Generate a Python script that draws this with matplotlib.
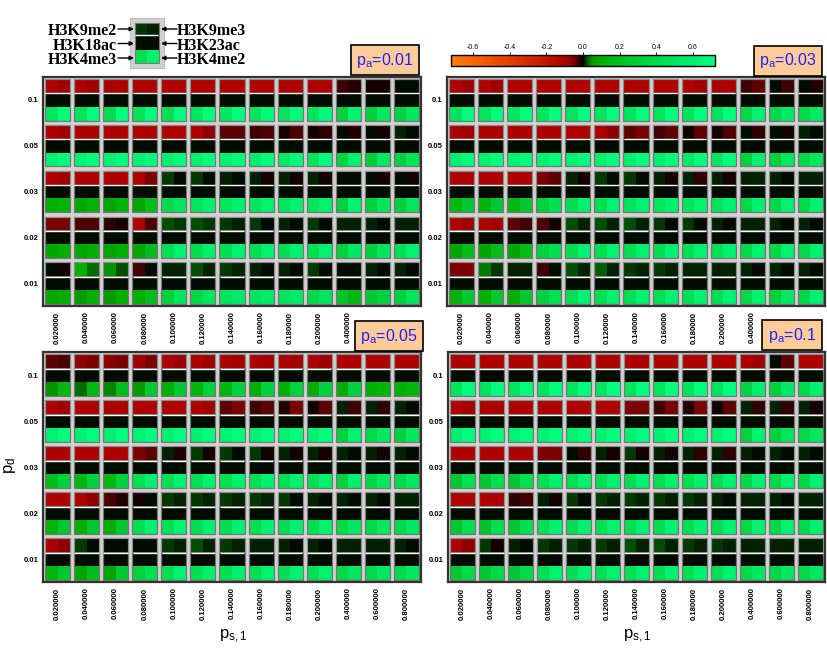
"""Histone-mark correlation grid: 4 panels (p_a), 5 x 13 cells (p_d x p_s,1),
each cell a 3 x 2 block of marks coloured on an orange-black-green scale."""
import numpy as np
import matplotlib
matplotlib.use("Agg")
import matplotlib.pyplot as plt
from matplotlib.colors import LinearSegmentedColormap, Normalize
from matplotlib.cm import ScalarMappable
from matplotlib.patches import Rectangle

plt.rcParams.update({
    "font.family": "Liberation Sans",
    "mathtext.fontset": "custom",
    "mathtext.rm": "Liberation Sans",
    "mathtext.it": "Liberation Sans:italic",
})

W, H = 828, 649

P_A = [0.01, 0.03, 0.05, 0.1]
P_D = [0.1, 0.05, 0.03, 0.02, 0.01]
P_S1 = [0.02, 0.04, 0.06, 0.08, 0.10, 0.12, 0.14, 0.16, 0.18, 0.20, 0.40, 0.60, 0.80]

# ---- p_a = 0.01 ----
K9ME2_001 = [
    [-0.10, -0.10, -0.10, -0.10, -0.10, -0.10, -0.10, -0.10, -0.10, -0.10, -0.023, -0.010, 0.002],
    [-0.10, -0.10, -0.10, -0.10, -0.10, -0.10, -0.039, -0.023, -0.010, -0.010, 0.0, 0.0, 0.006],
    [-0.10, -0.10, -0.10, -0.10, 0.012, 0.012, 0.008, 0.008, 0.010, 0.006, 0.0, 0.004, 0.004],
    [-0.05, -0.033, -0.02, -0.10, 0.02, 0.02, 0.012, 0.012, 0.006, 0.012, 0.006, 0.006, 0.006],
    [0.0, 0.10, 0.05, -0.023, 0.006, 0.018, 0.014, 0.010, 0.008, 0.012, 0.0, 0.006, 0.006],
]
K9ME3_001 = [
    [-0.083, -0.083, -0.10, -0.10, -0.10, -0.10, -0.10, -0.10, -0.10, -0.10, -0.013, -0.010, 0.0],
    [-0.083, -0.10, -0.10, -0.10, -0.10, -0.067, -0.039, -0.033, -0.033, -0.02, -0.013, -0.010, 0.0],
    [-0.083, -0.10, -0.10, -0.045, 0.0, 0.004, 0.0, -0.007, -0.007, -0.007, 0.0, -0.007, -0.010],
    [-0.05, -0.033, -0.010, -0.033, 0.012, 0.012, 0.006, 0.0, 0.0, 0.0, 0.006, 0.0, 0.006],
    [-0.010, 0.03, 0.018, 0.0, 0.006, 0.008, 0.006, 0.0, 0.0, 0.0, 0.0, 0.0, 0.0],
]
K4ME3_001 = [
    [0.50, 0.48, 0.42, 0.48, 0.46, 0.52, 0.52, 0.50, 0.50, 0.50, 0.33, 0.33, 0.35],
    [0.60, 0.62, 0.62, 0.62, 0.60, 0.60, 0.60, 0.58, 0.55, 0.50, 0.35, 0.30, 0.33],
    [0.10, 0.08, 0.08, 0.08, 0.42, 0.50, 0.50, 0.50, 0.50, 0.50, 0.33, 0.33, 0.33],
    [0.08, 0.08, 0.08, 0.08, 0.45, 0.45, 0.45, 0.45, 0.45, 0.45, 0.33, 0.33, 0.45],
    [0.08, 0.06, 0.06, 0.10, 0.33, 0.40, 0.50, 0.50, 0.50, 0.40, 0.22, 0.25, 0.33],
]
K4ME2_001 = [
    [0.70, 0.70, 0.70, 0.70, 0.70, 0.70, 0.70, 0.68, 0.68, 0.68, 0.60, 0.52, 0.52],
    [0.70, 0.70, 0.70, 0.70, 0.70, 0.70, 0.70, 0.70, 0.68, 0.70, 0.60, 0.52, 0.50],
    [0.12, 0.12, 0.12, 0.18, 0.50, 0.60, 0.60, 0.60, 0.60, 0.60, 0.60, 0.50, 0.50],
    [0.10, 0.10, 0.10, 0.18, 0.60, 0.60, 0.60, 0.60, 0.60, 0.60, 0.52, 0.50, 0.60],
    [0.10, 0.10, 0.10, 0.18, 0.50, 0.50, 0.55, 0.55, 0.55, 0.50, 0.15, 0.33, 0.50],
]

# ---- p_a = 0.03 ----
K9ME2_003 = [
    [-0.10, -0.10, -0.10, -0.10, -0.10, -0.10, -0.10, -0.10, -0.10, -0.10, -0.023, 0.0, 0.0],
    [-0.10, -0.10, -0.10, -0.10, -0.10, -0.10, -0.039, -0.023, -0.010, -0.010, 0.0, 0.004, 0.006],
    [-0.10, -0.10, -0.10, -0.05, 0.006, 0.014, 0.014, 0.010, 0.010, 0.010, 0.010, 0.006, 0.010],
    [-0.10, -0.10, -0.039, -0.033, 0.018, 0.018, 0.018, 0.014, 0.014, 0.010, 0.010, 0.010, 0.006],
    [-0.05, 0.035, 0.006, -0.023, 0.018, 0.024, 0.016, 0.014, 0.010, 0.010, 0.006, 0.006, 0.010],
]
K9ME3_003 = [
    [-0.083, -0.083, -0.10, -0.10, -0.10, -0.10, -0.10, -0.10, -0.09, -0.10, -0.039, -0.023, -0.013],
    [-0.083, -0.10, -0.10, -0.10, -0.10, -0.067, -0.045, -0.039, -0.039, -0.033, -0.02, -0.010, 0.0],
    [-0.10, -0.10, -0.10, -0.039, -0.010, 0.0, 0.0, -0.010, -0.02, -0.010, 0.006, 0.0, 0.006],
    [-0.083, -0.083, -0.023, -0.010, 0.006, 0.006, 0.006, 0.0, 0.0, 0.0, 0.006, 0.0, 0.0],
    [-0.045, 0.012, 0.006, 0.0, 0.010, 0.008, 0.008, 0.006, 0.006, 0.006, 0.0, 0.0, 0.0],
]
K4ME3_003 = [
    [0.50, 0.50, 0.50, 0.50, 0.50, 0.50, 0.50, 0.50, 0.50, 0.50, 0.40, 0.40, 0.40],
    [0.60, 0.60, 0.60, 0.60, 0.60, 0.60, 0.60, 0.58, 0.55, 0.52, 0.33, 0.33, 0.40],
    [0.15, 0.12, 0.15, 0.33, 0.45, 0.45, 0.50, 0.50, 0.50, 0.50, 0.40, 0.40, 0.40],
    [0.08, 0.08, 0.08, 0.33, 0.45, 0.45, 0.45, 0.45, 0.45, 0.45, 0.40, 0.40, 0.40],
    [0.12, 0.10, 0.10, 0.33, 0.45, 0.45, 0.45, 0.45, 0.45, 0.45, 0.40, 0.33, 0.40],
]
K4ME2_003 = [
    [0.70, 0.70, 0.70, 0.70, 0.70, 0.70, 0.70, 0.70, 0.70, 0.70, 0.60, 0.55, 0.55],
    [0.70, 0.70, 0.70, 0.70, 0.70, 0.70, 0.70, 0.70, 0.70, 0.70, 0.60, 0.52, 0.52],
    [0.25, 0.25, 0.25, 0.45, 0.60, 0.60, 0.60, 0.60, 0.60, 0.60, 0.60, 0.60, 0.60],
    [0.18, 0.18, 0.18, 0.45, 0.60, 0.60, 0.60, 0.60, 0.60, 0.60, 0.60, 0.60, 0.60],
    [0.25, 0.25, 0.25, 0.45, 0.60, 0.60, 0.60, 0.60, 0.60, 0.60, 0.60, 0.52, 0.60],
]

# ---- p_a = 0.05 ----
K9ME2_005 = [
    [-0.039, -0.067, -0.067, -0.083, -0.10, -0.10, -0.10, -0.10, -0.10, -0.10, -0.10, -0.10, -0.10],
    [-0.10, -0.10, -0.10, -0.10, -0.10, -0.10, -0.039, -0.023, -0.013, -0.010, 0.006, 0.006, 0.010],
    [-0.10, -0.10, -0.10, -0.045, 0.006, 0.012, 0.012, 0.012, 0.010, 0.010, 0.010, 0.008, 0.010],
    [-0.10, -0.10, -0.033, -0.010, 0.016, 0.016, 0.016, 0.012, 0.012, 0.010, 0.010, 0.008, 0.010],
    [-0.10, 0.016, 0.0, 0.0, 0.014, 0.02, 0.014, 0.010, 0.010, 0.010, 0.008, 0.006, 0.008],
]
K9ME3_005 = [
    [-0.033, -0.05, -0.045, -0.05, -0.083, -0.083, -0.09, -0.09, -0.09, -0.083, -0.10, -0.10, -0.10],
    [-0.083, -0.10, -0.10, -0.10, -0.10, -0.083, -0.045, -0.039, -0.045, -0.039, -0.023, -0.02, 0.0],
    [-0.10, -0.10, -0.10, -0.039, -0.013, -0.010, 0.0, -0.010, -0.010, -0.010, 0.0, -0.010, 0.0],
    [-0.10, -0.067, -0.013, 0.0, 0.006, 0.006, 0.006, 0.008, 0.004, 0.0, 0.0, 0.0, 0.006],
    [-0.067, 0.0, 0.0, 0.004, 0.006, 0.006, 0.006, 0.008, 0.004, 0.004, 0.006, 0.006, 0.0],
]
K4ME3_005 = [
    [0.045, 0.03, 0.04, 0.06, 0.10, 0.13, 0.13, 0.10, 0.10, 0.10, 0.10, 0.10, 0.10],
    [0.60, 0.60, 0.60, 0.60, 0.60, 0.60, 0.60, 0.60, 0.60, 0.60, 0.33, 0.40, 0.33],
    [0.18, 0.15, 0.15, 0.45, 0.45, 0.45, 0.45, 0.45, 0.45, 0.45, 0.33, 0.40, 0.40],
    [0.13, 0.10, 0.10, 0.45, 0.45, 0.45, 0.45, 0.45, 0.45, 0.45, 0.40, 0.40, 0.40],
    [0.13, 0.08, 0.08, 0.33, 0.45, 0.45, 0.45, 0.45, 0.45, 0.45, 0.40, 0.40, 0.40],
]
K4ME2_005 = [
    [0.15, 0.15, 0.18, 0.25, 0.25, 0.33, 0.33, 0.33, 0.33, 0.33, 0.33, 0.13, 0.13],
    [0.70, 0.70, 0.70, 0.70, 0.70, 0.70, 0.70, 0.70, 0.70, 0.70, 0.60, 0.52, 0.52],
    [0.33, 0.33, 0.33, 0.60, 0.60, 0.60, 0.60, 0.60, 0.60, 0.60, 0.60, 0.52, 0.52],
    [0.25, 0.25, 0.25, 0.60, 0.60, 0.60, 0.60, 0.60, 0.60, 0.60, 0.52, 0.52, 0.52],
    [0.25, 0.18, 0.25, 0.45, 0.60, 0.60, 0.60, 0.60, 0.60, 0.60, 0.52, 0.52, 0.52],
]

# ---- p_a = 0.1 ----
K9ME2_010 = [
    [-0.10, -0.10, -0.10, -0.10, -0.10, -0.10, -0.10, -0.10, -0.10, -0.10, -0.10, 0.0, -0.10],
    [-0.10, -0.10, -0.10, -0.10, -0.10, -0.10, -0.045, -0.023, -0.013, -0.010, 0.006, 0.006, 0.010],
    [-0.10, -0.10, -0.10, -0.05, 0.0, 0.008, 0.012, 0.010, 0.010, 0.008, 0.010, 0.010, 0.010],
    [-0.10, -0.10, -0.02, 0.008, 0.012, 0.016, 0.016, 0.012, 0.012, 0.010, 0.010, 0.010, 0.010],
    [-0.10, 0.012, 0.010, 0.012, 0.016, 0.016, 0.018, 0.02, 0.014, 0.012, 0.010, 0.010, 0.010],
]
K9ME3_010 = [
    [-0.10, -0.10, -0.10, -0.10, -0.10, -0.10, -0.10, -0.10, -0.10, -0.10, -0.083, -0.039, -0.10],
    [-0.083, -0.10, -0.10, -0.10, -0.10, -0.10, -0.05, -0.045, -0.045, -0.039, -0.02, -0.02, -0.010],
    [-0.10, -0.10, -0.10, -0.045, -0.02, -0.010, -0.010, -0.010, -0.02, -0.02, 0.0, 0.0, 0.0],
    [-0.10, -0.10, -0.023, -0.010, 0.0, 0.006, 0.006, 0.006, 0.006, 0.0, 0.006, 0.0, 0.006],
    [-0.067, -0.010, 0.0, 0.006, 0.008, 0.008, 0.008, 0.006, 0.008, 0.006, 0.006, 0.006, 0.006],
]
K4ME3_010 = [
    [0.50, 0.50, 0.50, 0.50, 0.50, 0.50, 0.50, 0.50, 0.50, 0.50, 0.35, 0.33, 0.40],
    [0.60, 0.60, 0.60, 0.60, 0.60, 0.60, 0.60, 0.60, 0.60, 0.60, 0.33, 0.33, 0.40],
    [0.25, 0.25, 0.25, 0.45, 0.45, 0.45, 0.45, 0.45, 0.45, 0.45, 0.40, 0.40, 0.40],
    [0.25, 0.22, 0.25, 0.45, 0.45, 0.45, 0.45, 0.45, 0.45, 0.45, 0.40, 0.40, 0.40],
    [0.25, 0.25, 0.25, 0.45, 0.45, 0.45, 0.45, 0.45, 0.45, 0.45, 0.40, 0.40, 0.40],
]
K4ME2_010 = [
    [0.70, 0.70, 0.70, 0.70, 0.70, 0.70, 0.70, 0.70, 0.70, 0.70, 0.60, 0.55, 0.60],
    [0.70, 0.70, 0.70, 0.70, 0.70, 0.70, 0.70, 0.70, 0.70, 0.70, 0.60, 0.50, 0.52],
    [0.45, 0.45, 0.45, 0.60, 0.60, 0.60, 0.60, 0.60, 0.60, 0.60, 0.60, 0.60, 0.60],
    [0.45, 0.45, 0.45, 0.60, 0.60, 0.60, 0.60, 0.60, 0.60, 0.60, 0.60, 0.60, 0.60],
    [0.40, 0.40, 0.40, 0.60, 0.60, 0.60, 0.60, 0.60, 0.60, 0.60, 0.52, 0.52, 0.52],
]

# acetylation marks are black (~0) in every panel
K18AC = [
    [0, 0, 0, 0, 0, 0, 0, 0, 0, 0, 0, 0, 0],
    [0, 0, 0, 0, 0, 0, 0, 0, 0, 0, 0, 0, 0],
    [0, 0, 0, 0, 0, 0, 0, 0, 0, 0, 0, 0, 0],
    [0, 0, 0, 0, 0, 0, 0, 0, 0, 0, 0, 0, 0],
    [0, 0, 0, 0, 0, 0, 0, 0, 0, 0, 0, 0, 0],
]
K23AC = [
    [0, 0, 0, 0, 0, 0, 0, 0, 0, 0, 0, 0, 0],
    [0, 0, 0, 0, 0, 0, 0, 0, 0, 0, 0, 0, 0],
    [0, 0, 0, 0, 0, 0, 0, 0, 0, 0, 0, 0, 0],
    [0, 0, 0, 0, 0, 0, 0, 0, 0, 0, 0, 0, 0],
    [0, 0, 0, 0, 0, 0, 0, 0, 0, 0, 0, 0, 0],
]

# legend key block (rows: K9me2/K9me3, K18ac/K23ac, K4me3/K4me2)
KEY_VALUES = [[0.012, 0.008], [0.0, 0.0], [0.45, 0.60]]
KEY_LEFT = ["H3K9me2", "H3K18ac", "H3K4me3"]
KEY_RIGHT = ["H3K9me3", "H3K23ac", "H3K4me2"]

VMIN, VMAX = -0.72, 0.72
CMAP_NODES = [(-0.72, "#FF8000"), (-0.45, "#E84800"), (-0.25, "#CC2000"),
              (-0.10, "#B00000"), (-0.05, "#800000"), (-0.02, "#300000"),
              (0.0, "#000000"), (0.02, "#005000"), (0.05, "#009800"),
              (0.10, "#00B000"), (0.25, "#00C830"), (0.45, "#00E050"),
              (0.60, "#00F070"), (0.72, "#00FF80")]
cmap = LinearSegmentedColormap.from_list(
    "og", [((v - VMIN) / (VMAX - VMIN), c) for v, c in CMAP_NODES])
cmap.set_bad((0, 0, 0, 0))
norm = Normalize(VMIN, VMAX)


def px(x0, y0, x1, y1):
    return [x0 / W, 1 - y1 / H, (x1 - x0) / W, (y1 - y0) / H]


def draw_panel(ax, marks, hide_last):
    k9me2, k9me3, k18, k23, k4me3, k4me2 = marks
    nr, nc = len(P_D), len(P_S1)
    Z = np.full((4 * nr - 1, 3 * nc - 1), np.nan)
    for r in range(nr):
        for c in range(nc):
            Z[4 * r, 3 * c], Z[4 * r, 3 * c + 1] = k9me2[r][c], k9me3[r][c]
            Z[4 * r + 1, 3 * c], Z[4 * r + 1, 3 * c + 1] = k18[r][c], k23[r][c]
            Z[4 * r + 2, 3 * c], Z[4 * r + 2, 3 * c + 1] = k4me3[r][c], k4me2[r][c]
    xe = np.array([[c + 0.07, c + 0.5, c + 0.93] for c in range(nc)]).ravel()
    ye = np.array([[r + 0.05, r + 0.35, r + 0.65, r + 0.95] for r in range(nr)]).ravel()
    ax.pcolormesh(xe, ye, np.ma.masked_invalid(Z), cmap=cmap, norm=norm,
                  shading="flat", edgecolors="none")
    for r in range(nr):
        for c in range(nc):
            ax.add_patch(Rectangle((c + 0.07, r + 0.05), 0.86, 0.9, fill=False,
                                   ec="#777777", lw=0.9))
            ax.add_patch(Rectangle((c + 0.07, r + 0.05), 0.86, 0.30, fill=False,
                                   ec="#999999", lw=0.5))
        ax.hlines(np.full(nc, r + 0.36), np.arange(nc) + 0.08, np.arange(nc) + 0.92,
                  colors="white", lw=1.0)
    ax.set_facecolor("#D3D3D3")
    ax.set_xlim(0, nc)
    ax.set_ylim(nr, 0)
    ax.set_yticks(np.arange(nr) + 0.5)
    ax.set_yticklabels([f"{v:g}" for v in P_D], fontsize=5.5, fontweight="bold")
    ax.set_xticks(np.arange(nc) + 0.5)
    labels = [f"{v:.6f}" for v in P_S1]
    if hide_last:
        labels[-2:] = ["", ""]
    ax.set_xticklabels(labels, rotation=90, fontsize=5.6, fontweight="bold")
    ax.tick_params(axis="y", length=0, pad=3)
    ax.tick_params(axis="x", length=0, pad=4)
    for s in ax.spines.values():
        s.set_linewidth(1.6)
        s.set_color("#333333")


fig = plt.figure(figsize=(W / 100, H / 100), dpi=100)

PANELS = [
    ((43, 77, 421, 306), (K9ME2_001, K9ME3_001, K18AC, K23AC, K4ME3_001, K4ME2_001), True),
    ((447, 77, 825, 306), (K9ME2_003, K9ME3_003, K18AC, K23AC, K4ME3_003, K4ME2_003), True),
    ((43, 352, 421, 582), (K9ME2_005, K9ME3_005, K18AC, K23AC, K4ME3_005, K4ME2_005), False),
    ((448, 352, 825, 582), (K9ME2_010, K9ME3_010, K18AC, K23AC, K4ME3_010, K4ME2_010), False),
]
for box, marks, hide in PANELS:
    draw_panel(fig.add_axes(px(*box)), marks, hide)

# p_a tags
TAG_POS = [(385, 60), (788, 61), (389, 336), (792, 335)]
for (x, y), pa in zip(TAG_POS, P_A):
    fig.text(x / W, 1 - y / H, r"$\mathrm{p_a}$=" + f"{pa:g}", color="#1f1fff",
             fontsize=11.5, ha="center", va="center", zorder=10,
             bbox=dict(boxstyle="square,pad=0.35", fc="#FFCC99", ec="black", lw=1.2))

# axis titles
fig.text(10 / W, 1 - 465 / H, r"$\mathrm{p_d}$", rotation=90, fontsize=12,
         ha="center", va="center")
for xc in (233, 637):
    fig.text(xc / W, 1 - 636 / H, r"$\mathrm{p_{s,1}}$", fontsize=12,
             ha="center", va="center")

# colorbar
cax = fig.add_axes(px(451, 55, 715, 66))
cb = fig.colorbar(ScalarMappable(norm=norm, cmap=cmap), cax=cax,
                  orientation="horizontal",
                  ticks=[-0.6, -0.4, -0.2, 0.0, 0.2, 0.4, 0.6])
cb.ax.xaxis.set_ticks_position("top")
cb.ax.xaxis.set_label_position("top")
cb.ax.set_xticklabels(["-0.6", "-0.4", "-0.2", "0.0", "0.2", "0.4", "0.6"])
cb.ax.tick_params(labelsize=5, length=2, width=0.6, pad=1)
cb.outline.set_linewidth(1.0)

# legend key
lax = fig.add_axes(px(0, 0, 260, 76))
lax.set_xlim(0, 260)
lax.set_ylim(76, 0)
lax.axis("off")
lax.add_patch(Rectangle((130, 18), 34, 50, fc="#D0D0D0", ec="#BBBBBB", lw=0.8))
lax.pcolormesh([135, 147, 159], [23, 34.5, 50, 63], np.array(KEY_VALUES),
               cmap=cmap, norm=norm, shading="flat")
lax.add_patch(Rectangle((135, 23), 24, 40, fill=False, ec="#777777", lw=0.8))
lax.hlines(35, 135.5, 158.5, colors="white", lw=1.0)
for y, lt, rt in zip([29, 43.5, 58], KEY_LEFT, KEY_RIGHT):
    lax.text(117, y, lt, ha="right", va="center_baseline", fontsize=11.5,
             fontweight="bold", family="Liberation Serif")
    lax.text(177, y, rt, ha="left", va="center_baseline", fontsize=11.5,
             fontweight="bold", family="Liberation Serif")
    arrow = dict(arrowstyle="-|>", lw=1.0, color="black", mutation_scale=6,
                 shrinkA=0, shrinkB=0)
    lax.annotate("", xy=(134, y), xytext=(118, y), arrowprops=arrow)
    lax.annotate("", xy=(161, y), xytext=(177, y), arrowprops=arrow)

fig.savefig("out.png", dpi=100)
